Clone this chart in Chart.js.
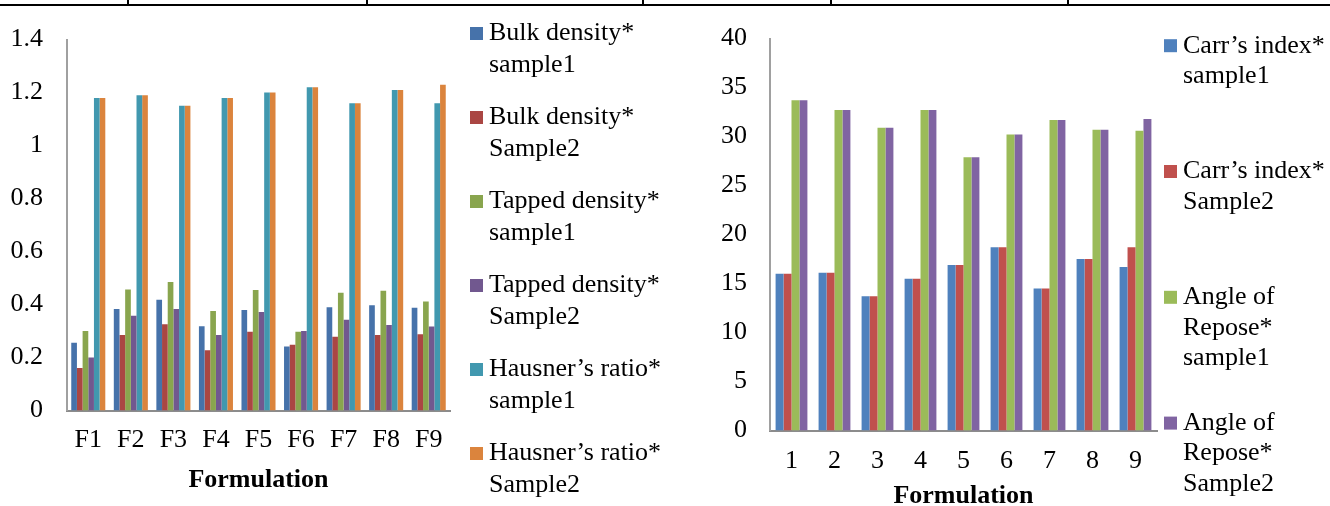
<!DOCTYPE html>
<html>
<head>
<meta charset="utf-8">
<script src="https://cdn.jsdelivr.net/npm/chart.js@4/dist/chart.umd.min.js"></script>
<style>
    body { margin: 0; background: #fff; width: 1330px; height: 506px; overflow: hidden; position: relative; }
    canvas { position: absolute; top: 0; }
    #left { left: 0; }
    #right { left: 680px; }
    .rule { position: absolute; background: #000; }
</style>
</head>
<body>
<!-- table border above the figure -->
<div class="rule" style="left:0;top:4px;width:1330px;height:2px"></div>
<div class="rule" style="left:127px;top:0;width:2px;height:5px"></div>
<div class="rule" style="left:366px;top:0;width:2px;height:5px"></div>
<div class="rule" style="left:642px;top:0;width:2px;height:5px"></div>
<div class="rule" style="left:830px;top:0;width:2px;height:5px"></div>
<div class="rule" style="left:1067px;top:0;width:2px;height:5px"></div>

<canvas id="left" width="680" height="506"></canvas>
<canvas id="right" width="650" height="506"></canvas>

<script>
// DATA - left chart
const leftCategories = ['F1', 'F2', 'F3', 'F4', 'F5', 'F6', 'F7', 'F8', 'F9'];
const leftTickLabels = ['0', '0.2', '0.4', '0.6', '0.8', '1', '1.2', '1.4'];
const bulk1 = [0.256, 0.383, 0.418, 0.318, 0.379, 0.242, 0.390, 0.397, 0.388];
const bulk2 = [0.160, 0.285, 0.326, 0.227, 0.297, 0.248, 0.278, 0.285, 0.288];
const tapped1 = [0.300, 0.457, 0.485, 0.376, 0.455, 0.297, 0.444, 0.452, 0.411];
const tapped2 = [0.200, 0.358, 0.383, 0.285, 0.372, 0.300, 0.343, 0.323, 0.317];
const hausner1 = [1.18, 1.19, 1.15, 1.18, 1.20, 1.22, 1.16, 1.21, 1.16];
const hausner2 = [1.18, 1.19, 1.15, 1.18, 1.20, 1.22, 1.16, 1.21, 1.23];

// DATA - right chart
const rightCategories = ['1', '2', '3', '4', '5', '6', '7', '8', '9'];
const rightTickLabels = ['0', '5', '10', '15', '20', '25', '30', '35', '40'];
const carr1 = [16.0, 16.1, 13.7, 15.5, 16.9, 18.7, 14.5, 17.5, 16.7];
const carr2 = [16.0, 16.1, 13.7, 15.5, 16.9, 18.7, 14.5, 17.5, 18.7];
const repose1 = [33.7, 32.7, 30.9, 32.7, 27.9, 30.2, 31.7, 30.7, 30.6];
const repose2 = [33.7, 32.7, 30.9, 32.7, 27.9, 30.2, 31.7, 30.7, 31.8];

const serif = "'Liberation Serif', 'Times New Roman', serif";
Chart.defaults.font.family = serif;
Chart.defaults.font.size = 26;
Chart.defaults.color = '#000';
Chart.defaults.animation = false;

// legend at the right, one entry per dataset, multi line text
const sideLegend = {
    id: 'sideLegend',
    afterDraw: function (chart, args, opts) {
        const ctx = chart.ctx;
        ctx.save();
        ctx.font = '26px ' + serif;
        ctx.textBaseline = 'middle';
        ctx.textAlign = 'left';
        chart.data.datasets.forEach(function (ds, i) {
            const cy = opts.top + i * opts.step;
            ctx.fillStyle = ds.backgroundColor;
            ctx.fillRect(opts.boxX, cy - 6.5, 13, 13);
            ctx.fillStyle = '#000';
            ds.lines.forEach(function (line, j) {
                ctx.fillText(line, opts.textX, cy + j * opts.lineGap);
            });
        });
        ctx.restore();
    }
};

function ds(lines, data, color) {
    return { label: lines.join(' '), lines: lines, data: data, backgroundColor: color, borderWidth: 0 };
}

// LEFT
new Chart(document.getElementById('left'), {
    type: 'bar',
    data: {
        labels: leftCategories,
        datasets: [
            ds(['Bulk density*', 'sample1'], bulk1, '#4672aa'),
            ds(['Bulk density*', 'Sample2'], bulk2, '#aa4643'),
            ds(['Tapped density*', 'sample1'], tapped1, '#89a54e'),
            ds(['Tapped density*', 'Sample2'], tapped2, '#71588f'),
            ds(['Hausner\u2019s ratio*', 'sample1'], hausner1, '#4198af'),
            ds(['Hausner\u2019s ratio*', 'Sample2'], hausner2, '#db843d')
        ]
    },
    options: {
        responsive: false,
        layout: { padding: { top: 25, right: 230, left: 0, bottom: 0 } },
        datasets: { bar: { categoryPercentage: 0.8, barPercentage: 1.0 } },
        plugins: {
            legend: { display: false },
            tooltip: { enabled: false },
            sideLegend: { boxX: 470, textX: 489, top: 33.5, step: 84, lineGap: 31.5 }
        },
        scales: {
            x: {
                grid: { display: false, drawTicks: false },
                border: { display: true, color: '#8c8c8c', width: 2 },
                ticks: { padding: 14, maxRotation: 0, font: { family: serif, size: 26 } },
                title: { display: true, text: 'Formulation', font: { family: serif, size: 26, weight: 'bold' }, padding: { top: 0, bottom: 10 } },
                afterFit: function (scale) { scale.height = 95.5; }
            },
            y: {
                min: 0,
                max: 1.4,
                grid: { display: false, drawTicks: false },
                border: { display: true, color: '#a0a0a0', width: 2 },
                ticks: {
                    stepSize: 0.2,
                    padding: 24,
                    font: { family: serif, size: 26 },
                    callback: function (v, i) { return leftTickLabels[i]; }
                },
                afterFit: function (scale) { scale.width = 67; }
            }
        }
    },
    plugins: [sideLegend]
});

// RIGHT
new Chart(document.getElementById('right'), {
    type: 'bar',
    data: {
        labels: rightCategories,
        datasets: [
            ds(['Carr\u2019s index*', 'sample1'], carr1, '#4f81bd'),
            ds(['Carr\u2019s index*', 'Sample2'], carr2, '#c0504d'),
            ds(['Angle of', 'Repose*', 'sample1'], repose1, '#9bbb59'),
            ds(['Angle of', 'Repose*', 'Sample2'], repose2, '#8064a2')
        ]
    },
    options: {
        responsive: false,
        layout: { padding: { top: 24, right: 173, left: 0, bottom: 0 } },
        datasets: { bar: { categoryPercentage: 0.74, barPercentage: 1.0 } },
        plugins: {
            legend: { display: false },
            tooltip: { enabled: false },
            sideLegend: { boxX: 484, textX: 503, top: 45.7, step: 125.8, lineGap: 30.5 }
        },
        scales: {
            x: {
                grid: { display: false, drawTicks: false },
                border: { display: true, color: '#8c8c8c', width: 2 },
                ticks: { padding: 15.5, maxRotation: 0, font: { family: serif, size: 26 } },
                title: { display: true, text: 'Formulation', font: { family: serif, size: 26, weight: 'bold' }, padding: { top: 0, bottom: -6 } },
                afterFit: function (scale) { scale.height = 75.5; }
            },
            y: {
                min: 0,
                max: 40,
                grid: { display: false, drawTicks: false },
                border: { display: true, color: '#a0a0a0', width: 2 },
                ticks: {
                    stepSize: 5,
                    padding: 23,
                    font: { family: serif, size: 26 },
                    callback: function (v, i) { return rightTickLabels[i]; }
                },
                afterFit: function (scale) { scale.width = 90; }
            }
        }
    },
    plugins: [sideLegend]
});
</script>
</body>
</html>
